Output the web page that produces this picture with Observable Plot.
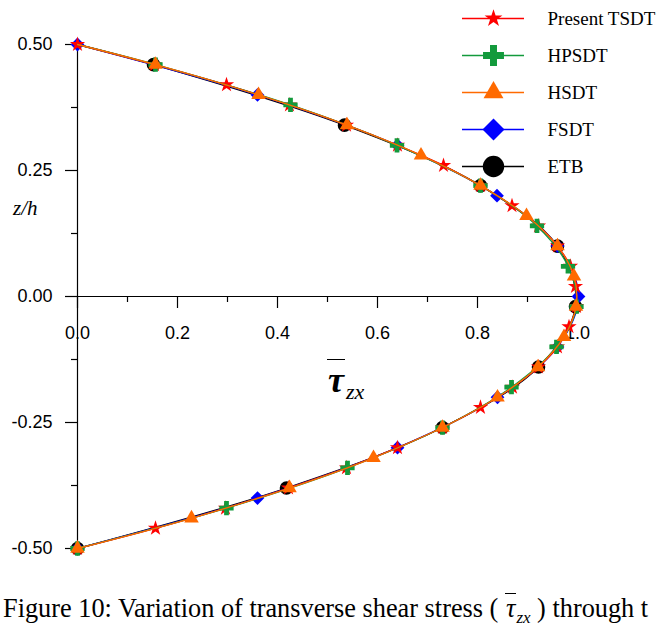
<!DOCTYPE html>
<html>
<head>
<meta charset="utf-8">
<script src="https://cdn.jsdelivr.net/npm/d3@7"></script>
<script src="https://cdn.jsdelivr.net/npm/@observablehq/plot@0.6"></script>
<style>
  html, body { margin: 0; padding: 0; background: #fff; }
  body { width: 658px; height: 630px; overflow: hidden; position: relative; }
  #chart { position: absolute; left: 0; top: 0; }
  #legend { position: absolute; left: 455px; top: 0; }
  .serif { font-family: "Liberation Serif", "Times New Roman", serif; color: #000; }
  .ttl { position: absolute; line-height: 1; white-space: nowrap; }
  .bar { border-top: 1.5px solid #000; padding: 0 1px; }
  #caption { position: absolute; left: 3px; top: 594px; font-size: 26.3px; line-height: 1.15; white-space: nowrap; }
</style>
</head>
<body>
<div id="chart"></div>
<div id="legend"></div>
<div class="ttl serif" style="left:13px; top:198px; font-size:21px; font-style:italic;">z/h</div>
<div class="ttl serif" style="left:327px; top:362px; font-size:36px; font-style:italic;"><span class="bar" style="font-weight:bold;">τ</span><span style="font-size:22px; position:relative; top:7px; margin-left:1px;">zx</span></div>
<div id="caption" class="serif">Figure 10: Variation of transverse shear stress ( <span style="font-style:italic;"><span class="bar">τ</span><span style="font-size:17px; position:relative; top:6px;">zx</span></span> ) through t</div>
<script>
// ---- data ----
const names   = ["Present TSDT", "HPSDT", "HSDT", "FSDT", "ETB"];
const colors  = ["#ff0000", "#139a3c", "#ff6a00", "#0000ff", "#000000"];
const symbols = ["star", "cross", "triangle", "diamond2", "circle"];

// Present TSDT (red stars)
const tsdtZ   = [0.50, 0.46, 0.42, 0.38, 0.34, 0.30, 0.26, 0.22, 0.18, 0.14, 0.10, 0.06, 0.02,
                 -0.02, -0.06, -0.10, -0.14, -0.18, -0.22, -0.26, -0.30, -0.34, -0.38, -0.42, -0.46, -0.50];
const tsdtTau = [0.000, 0.154, 0.298, 0.424, 0.538, 0.640, 0.732, 0.806, 0.869, 0.922, 0.960, 0.986, 0.996,
                 0.998, 0.983, 0.960, 0.922, 0.870, 0.806, 0.730, 0.640, 0.538, 0.422, 0.296, 0.156, 0.000];
// HPSDT (green crosses)
const hpsdtZ   = [0.46, 0.38, 0.30, 0.22, 0.14, 0.06, -0.02, -0.10, -0.18, -0.26, -0.34, -0.42, -0.50];
const hpsdtTau = [0.156, 0.426, 0.639, 0.806, 0.919, 0.981, 0.998, 0.958, 0.868, 0.730, 0.540, 0.298, 0.000];
// HSDT (orange triangles)
const hsdtZ   = [0.46, 0.40, 0.34, 0.28, 0.22, 0.16, 0.10, 0.04, -0.02, -0.08, -0.14, -0.20, -0.26, -0.32, -0.38, -0.44, -0.50];
const hsdtTau = [0.156, 0.362, 0.539, 0.687, 0.806, 0.898, 0.960, 0.993, 0.997, 0.973, 0.921, 0.840, 0.730, 0.592, 0.424, 0.228, 0.000];
// FSDT (blue diamonds)
const fsdtZ   = [0.50, 0.40, 0.30, 0.20, 0.10, 0.00, -0.10, -0.20, -0.30, -0.40, -0.50];
const fsdtTau = [0.000, 0.360, 0.640, 0.839, 0.960, 1.002, 0.960, 0.840, 0.640, 0.360, 0.000];
// ETB (black circles)
const etbZ   = [0.46, 0.34, 0.22, 0.10, -0.02, -0.14, -0.26, -0.38, -0.50];
const etbTau = [0.152, 0.534, 0.806, 0.960, 0.996, 0.922, 0.730, 0.418, 0.000];

// curve end points (every curve runs to the surfaces z/h = ±0.5)
const edgeZ   = [0.50, -0.50];
const edgeTau = [0.000, 0.000];

// axis ticks
const xMajor = [0, 0.2, 0.4, 0.6, 0.8, 1.0];
const xTickLabels = ["0.0", "0.2", "0.4", "0.6", "0.8", "1.0"];
const xMinor = [0.1, 0.3, 0.5, 0.7, 0.9];
const yMajor = [0.5, 0.25, 0, -0.25, -0.5];
const yTickLabels = ["0.50", "0.25", "0.00", "-0.25", "-0.50"];
const yMinor = [0.375, 0.125, -0.125, -0.375];

// ---- build tables ----
const zs   = [tsdtZ, hpsdtZ, hsdtZ, fsdtZ, etbZ];
const taus = [tsdtTau, hpsdtTau, hsdtTau, fsdtTau, etbTau];
const markerData = names.map((n, i) => zs[i].map((z, j) => ({series: n, z, tau: taus[i][j]})));
const lineData = names.map((n, i) => {
  const pts = markerData[i].slice();
  edgeZ.forEach((z, k) => { if (!pts.some(p => p.z === z)) pts.push({series: n, z, tau: edgeTau[k]}); });
  return pts.sort((a, b) => b.z - a.z);
});

// ---- layout / style ----
const W = 658, H = 593, ML = 77, MR = 81, MT = 44, MB = 45;
const innerH = H - MT - MB;
const majorLen = 12, minorLen = 6;
const plotR   = [4.8, 6.0, 5.4, 6.2, 6.8];
const legendR = [5.6, 8.8, 7.4, 9.9, 10.7];
const drawOrder = [4, 3, 0, 1, 2];       // ETB, FSDT, TSDT, HPSDT, HSDT (top)
const sansFont = '"Liberation Sans", Arial, sans-serif';

const seriesMarks = drawOrder.flatMap(i => [
  Plot.line(lineData[i], {x: "tau", y: "z", stroke: colors[i], strokeWidth: 1.3, curve: "catmull-rom"}),
  Plot.dot(markerData[i], {x: "tau", y: "z", symbol: () => symbols[i], r: plotR[i], fill: colors[i], stroke: "none"})
]);

const chart = Plot.plot({
  width: W, height: H,
  marginLeft: ML, marginRight: MR, marginTop: MT, marginBottom: MB,
  style: {fontFamily: sansFont, fontSize: "18px", color: "#000", background: "transparent"},
  x: {domain: [0, 1], axis: null},
  y: {domain: [-0.5, 0.5], axis: null},
  symbol: {type: "identity"},
  marks: [
    Plot.ruleX([0], {y1: -0.5, y2: 0.5, stroke: "#000", strokeWidth: 1.2}),
    Plot.ruleY([0], {x1: 0, x2: 1, stroke: "#000", strokeWidth: 1.2}),
    Plot.ruleY(yMajor, {y: d => d, x1: 0, x2: -majorLen / (W - ML - MR), stroke: "#000", strokeWidth: 1.2}),
    Plot.ruleY(yMinor, {y: d => d, x1: 0, x2: -minorLen / (W - ML - MR), stroke: "#000", strokeWidth: 1.2}),
    Plot.text(yMajor, {x: 0, y: d => d, text: (d, i) => yTickLabels[i], dx: -25, textAnchor: "end",
                       fontSize: 18, fontFamily: sansFont, fill: "#000"}),
    Plot.ruleX(xMajor, {x: d => d, y1: 0, y2: -majorLen / innerH, stroke: "#000", strokeWidth: 1.2}),
    Plot.ruleX(xMinor, {x: d => d, y1: 0, y2: -minorLen / innerH, stroke: "#000", strokeWidth: 1.2}),
    Plot.text(xMajor, {x: d => d, y: 0, text: (d, i) => xTickLabels[i], dy: 37,
                       fontSize: 18, fontFamily: sansFont, fill: "#000"}),
    ...seriesMarks
  ]
});
document.getElementById("chart").appendChild(chart);

// ---- legend ----
const legendRows = names.map((n, i) => ({name: n, color: colors[i], symbol: symbols[i], r: legendR[i]}));
const legend = Plot.plot({
  width: 203, height: 185,
  marginLeft: 7, marginRight: 134, marginTop: 18, marginBottom: 19,
  style: {background: "transparent"},
  x: {domain: [0, 1], axis: null},
  y: {type: "point", domain: names, padding: 0, axis: null},
  r: {type: "identity"},
  symbol: {type: "identity"},
  marks: [
    Plot.ruleY(legendRows, {y: "name", x1: 0, x2: 1, stroke: "color", strokeWidth: 1.5}),
    Plot.dot(legendRows, {x: 0.5, y: "name", symbol: "symbol", r: "r", fill: "color", stroke: "none"}),
    Plot.text(legendRows, {x: 1, y: "name", text: "name", dx: 23, textAnchor: "start",
                           fontSize: 19, fontFamily: '"Liberation Serif", "Times New Roman", serif', fill: "#000"})
  ]
});
document.getElementById("legend").appendChild(legend);
</script>
</body>
</html>
